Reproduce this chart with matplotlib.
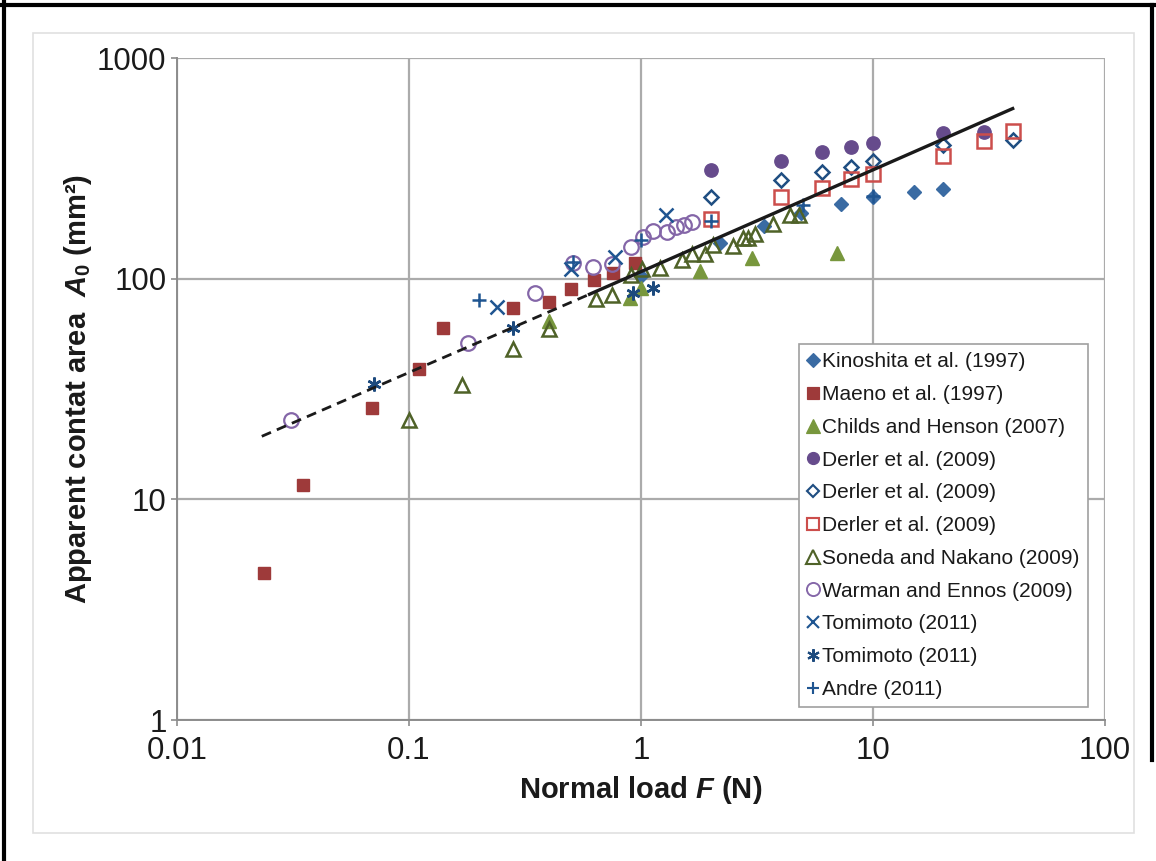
import matplotlib
matplotlib.use("Agg")
import matplotlib.pyplot as plt
from matplotlib.lines import Line2D
from matplotlib.patches import Rectangle
from matplotlib.ticker import FixedLocator, FuncFormatter, NullLocator

plt.rcParams["font.family"] = ["Liberation Sans", "DejaVu Sans"]
plt.rcParams["mathtext.fontset"] = "custom"
plt.rcParams["mathtext.rm"] = "Liberation Sans:bold"
plt.rcParams["mathtext.it"] = "Liberation Sans:italic:bold"
plt.rcParams["mathtext.bf"] = "Liberation Sans:bold"

# ---- data (F in N, A0 in mm^2) ----
kino_F = [1.0, 2.2, 3.4, 4.9, 7.3, 10, 15, 20]
kino_A = [103, 145, 173, 199, 218, 234, 247, 255]

maeno_F = [0.0237, 0.035, 0.069, 0.11, 0.14, 0.28, 0.40, 0.50, 0.63, 0.76, 0.94]
maeno_A = [4.65, 11.6, 26, 39, 60, 74, 78, 90, 99, 106, 118]

childs_F = [0.40, 0.90, 1.0, 1.8, 3.0, 7.0]
childs_A = [64, 82, 91, 108, 124, 131]

derler_c_F = [2, 4, 6, 8, 10, 20, 30]
derler_c_A = [311, 341, 375, 395, 412, 457, 462]

derler_d_F = [2, 4, 6, 8, 10, 20, 40]
derler_d_A = [234, 280, 304, 320, 341, 403, 425]

derler_s_F = [2, 4, 6, 8, 10, 20, 30, 40]
derler_s_A = [186, 234, 258, 283, 298, 360, 421, 467]

soneda_F = [0.10, 0.17, 0.28, 0.40, 0.64, 0.75, 0.91, 1.01, 1.21, 1.50,
            1.66, 1.89, 2.04, 2.49, 2.75, 2.89, 3.1, 3.7, 4.4, 4.8]
soneda_A = [23, 33, 48, 59, 81, 84, 104, 111, 112, 122,
            129, 129, 142, 141, 153, 153, 160, 177, 195, 195]

warman_F = [0.031, 0.18, 0.35, 0.51, 0.62, 0.75, 0.91, 1.02, 1.13, 1.29,
            1.42, 1.53, 1.66]
warman_A = [23, 51, 86, 118, 113, 117, 139, 154, 164, 162, 172, 175, 181]

tomi_x_F = [0.24, 0.50, 0.77, 1.28]
tomi_x_A = [74.5, 111, 125, 195]

tomi_a_F = [0.071, 0.28, 0.92, 1.13]
tomi_a_A = [33.4, 60, 86, 91]

andre_F = [0.20, 0.51, 1.0, 2.0, 5.0, 10]
andre_A = [80, 119, 150, 183, 216, 237]

# fitted power law, drawn as two straight segments on the log-log axes
fit_dash_F = [0.0232, 0.6]
fit_dash_A = [19.3, 85]
fit_solid_F = [0.6, 40]
fit_solid_A = [85, 590]

x_ticks = [0.01, 0.1, 1, 10, 100]
y_ticks = [1, 10, 100, 1000]

# (label, F, A, marker, size, color, filled, edge width)
series = [
    ("Kinoshita et al. (1997)", kino_F, kino_A, "D", 7.4, "#3A6BA3", True, 1),
    ("Maeno et al. (1997)", maeno_F, maeno_A, "s", 8.8, "#9E3A3A", True, 1),
    ("Childs and Henson (2007)", childs_F, childs_A, "^", 10.5, "#78973D", True, 1),
    ("Derler et al. (2009)", derler_c_F, derler_c_A, "o", 9.6, "#664B8C", True, 1),
    ("Derler et al. (2009)", derler_d_F, derler_d_A, "D", 7.0, "#1F4E82", False, 1.8),
    ("Derler et al. (2009)", derler_s_F, derler_s_A, "s", 9.4, "#CC4E4C", False, 1.8),
    ("Soneda and Nakano (2009)", soneda_F, soneda_A, "^", 10.5, "#4F6228", False, 1.8),
    ("Warman and Ennos (2009)", warman_F, warman_A, "o", 10.5, "#8466A8", False, 1.6),
    ("Tomimoto (2011)", tomi_x_F, tomi_x_A, "x", 9.6, "#1F5591", False, 1.8),
    ("Tomimoto (2011)", tomi_a_F, tomi_a_A, (6, 2, 0), 10.0, "#1C4A7E", False, 1.8),
    ("Andre (2011)", andre_F, andre_A, "+", 10.0, "#1F5591", False, 1.8),
]

W, H = 1156, 861
fig = plt.figure(figsize=(W / 100, H / 100), dpi=100)
fig.patch.set_facecolor("white")

# chart area frame and the black outer border
fig.add_artist(Rectangle((33 / W, 1 - 833 / H), (1134 - 33) / W, (833 - 33) / H,
                         transform=fig.transFigure, fill=False,
                         edgecolor="#E0E0E0", lw=1.2))
fig.add_artist(Line2D([4 / W, 4 / W], [0, 1], transform=fig.transFigure,
                      color="black", lw=3))
fig.add_artist(Line2D([0, 1], [1 - 5 / H, 1 - 5 / H], transform=fig.transFigure,
                      color="black", lw=3))
fig.add_artist(Line2D([1152 / W, 1152 / W], [1 - 5 / H, 1 - 760 / H],
                      transform=fig.transFigure, color="black", lw=3))

ax = fig.add_axes([177 / W, 1 - 720 / H, (1105 - 177) / W, (720 - 58) / H])
ax.set_xscale("log")
ax.set_yscale("log")
ax.set_xlim(0.01, 100)
ax.set_ylim(1, 1000)

handles = []
for label, xs, ys, mk, ms, col, filled, mew in series:
    fc = col if filled else "none"
    ax.plot(xs, ys, linestyle="none", marker=mk, markersize=ms,
            markerfacecolor=fc, markeredgecolor=col, markeredgewidth=mew,
            zorder=3, clip_on=False)
    handles.append(Line2D([], [], linestyle="none", marker=mk,
                          markersize=ms * 0.9, markerfacecolor=fc,
                          markeredgecolor=col, markeredgewidth=mew * 0.85,
                          label=label))

ax.plot(fit_dash_F, fit_dash_A, color="#1A1A1A", lw=2.0, ls=(0, (3.6, 2.3)), zorder=4)
ax.plot(fit_solid_F, fit_solid_A, color="#1A1A1A", lw=2.4, zorder=4)

# grid and axes in the spreadsheet style
ax.xaxis.set_major_locator(FixedLocator(x_ticks))
ax.yaxis.set_major_locator(FixedLocator(y_ticks))
ax.xaxis.set_minor_locator(NullLocator())
ax.yaxis.set_minor_locator(NullLocator())
fmt = FuncFormatter(lambda v, p: f"{v:g}")
ax.xaxis.set_major_formatter(fmt)
ax.yaxis.set_major_formatter(fmt)
ax.grid(True, which="major", color="#ABABAB", lw=1.6, zorder=0)
ax.set_axisbelow(True)
for s in ["top", "right"]:
    ax.spines[s].set_visible(False)
for s in ["left", "bottom"]:
    ax.spines[s].set_color("#8C8C8C")
    ax.spines[s].set_linewidth(1.4)
ax.tick_params(axis="both", which="major", direction="out", length=4.5,
               width=1.2, color="#8C8C8C", labelsize=22.5, labelcolor="#1A1A1A")
ax.tick_params(axis="x", pad=7)
ax.tick_params(axis="y", pad=3)

ax.set_xlabel(r"Normal load $\mathit{F}$ (N)", fontsize=21, fontweight="bold",
              color="#1A1A1A", labelpad=6)
ax.set_ylabel(r"Apparent contat area  $\mathit{A}_{\mathit{0}}$ (mm²)", fontsize=21,
              fontweight="bold", color="#1A1A1A", labelpad=2)

leg = fig.legend(handles=handles, loc="upper left",
                 bbox_to_anchor=(799 / W, 1 - 344 / H), borderaxespad=0,
                 fontsize=15, frameon=True, fancybox=False, framealpha=1,
                 edgecolor="#A0A0A0", handlelength=0.5, handletextpad=0.2,
                 labelspacing=0.66, borderpad=0.4)
leg.get_frame().set_linewidth(1.2)
for t in leg.get_texts():
    t.set_color("#1A1A1A")

fig.savefig("out.png", dpi=100, facecolor="white")
